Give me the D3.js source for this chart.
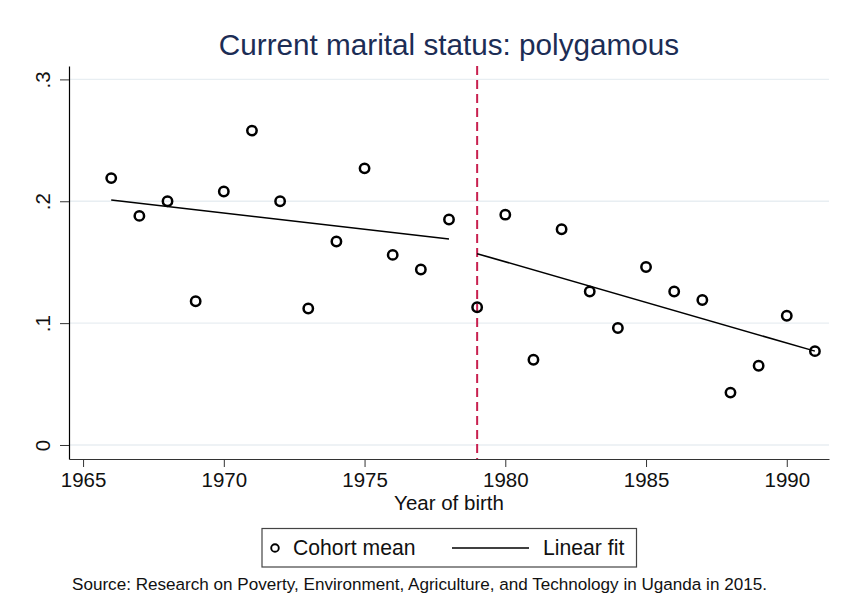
<!DOCTYPE html>
<html>
<head>
<meta charset="utf-8">
<script src="https://cdn.jsdelivr.net/npm/d3@7"></script>
<style>
  body { margin: 0; background: #fff; }
  svg { font-family: "Liberation Sans", Arial, sans-serif; }
</style>
</head>
<body>
<div id="chart"></div>
<script>
// Cohort means
const years = [1966, 1967, 1968, 1969, 1970, 1971, 1972, 1973, 1974, 1975, 1976, 1977, 1978,
               1979, 1980, 1981, 1982, 1983, 1984, 1985, 1986, 1987, 1988, 1989, 1990, 1991];
const means = [0.219, 0.188, 0.200, 0.118, 0.208, 0.258, 0.200, 0.112, 0.167, 0.227, 0.156, 0.144, 0.185,
               0.113, 0.189, 0.070, 0.177, 0.126, 0.096, 0.146, 0.126, 0.119, 0.043, 0.065, 0.106, 0.077];

// Linear fit segments, before and after the cutoff
const fitBefore = [[1966, 0.201], [1978, 0.169]];
const fitAfter = [[1979, 0.157], [1991, 0.077]];
const cutoff = 1979;

const xTicks = [1965, 1970, 1975, 1980, 1985, 1990];
const yTicks = [0, 0.1, 0.2, 0.3];
const yTickLabels = ['0', '.1', '.2', '.3'];

const width = 841, height = 613;
const margin = { top: 66, right: 12, bottom: 154, left: 69 };
const plotW = width - margin.left - margin.right;
const plotH = height - margin.top - margin.bottom;

const svg = d3.select('#chart')
    .append('svg')
    .attr('width', width)
    .attr('height', height);

const g = svg.append('g')
    .attr('transform', `translate(${margin.left},${margin.top})`);

const x = d3.scaleLinear().domain([1964.5, 1991.5]).range([0, plotW]);
const y = d3.scaleLinear().domain([-0.0115, 0.311]).range([plotH, 0]);

// Title
svg.append('text')
    .attr('x', 449)
    .attr('y', 55)
    .attr('text-anchor', 'middle')
    .style('font-size', '29.7px')
    .attr('fill', '#1c2d55')
    .text('Current marital status: polygamous');

// Grid lines
g.selectAll('.grid')
    .data(yTicks)
    .enter()
    .append('line')
    .attr('x1', 0)
    .attr('x2', plotW)
    .attr('y1', d => y(d))
    .attr('y2', d => y(d))
    .attr('stroke', '#e8eef2')
    .attr('stroke-width', 1.4);

// Y axis
const yAxis = g.append('g')
    .call(d3.axisLeft(y).tickValues(yTicks).tickFormat((d, i) => yTickLabels[i]).tickSize(9).tickSizeOuter(0));
yAxis.select('.domain').attr('stroke', '#000').attr('stroke-width', 1.2);
yAxis.selectAll('.tick line').attr('stroke', '#333');
yAxis.selectAll('.tick text')
    .style('font-size', '20.5px')
    .attr('fill', '#111')
    .attr('transform', 'rotate(-90)')
    .attr('x', 0)
    .attr('y', -19)
    .attr('dy', 0)
    .attr('text-anchor', 'middle');

// X axis
const xAxis = g.append('g')
    .attr('transform', `translate(0,${plotH})`)
    .call(d3.axisBottom(x).tickValues(xTicks).tickFormat(d3.format('d')).tickSize(8).tickSizeOuter(0));
xAxis.select('.domain').attr('stroke', '#333').attr('stroke-width', 1.2);
xAxis.selectAll('.tick line').attr('stroke', '#333');
xAxis.selectAll('.tick text')
    .style('font-size', '20.5px')
    .attr('fill', '#111')
    .attr('y', 28)
    .attr('dy', 0);

// X axis title
svg.append('text')
    .attr('x', 449)
    .attr('y', 510)
    .attr('text-anchor', 'middle')
    .style('font-size', '20.5px')
    .attr('fill', '#111')
    .text('Year of birth');

// Cutoff line
g.append('line')
    .attr('x1', x(cutoff))
    .attr('x2', x(cutoff))
    .attr('y1', 0)
    .attr('y2', plotH)
    .attr('stroke', '#c8204f')
    .attr('stroke-width', 2)
    .attr('stroke-dasharray', '9,5');

// Fit lines
const line = d3.line().x(d => x(d[0])).y(d => y(d[1]));
[fitBefore, fitAfter].forEach(seg => {
    g.append('path')
        .attr('d', line(seg))
        .attr('fill', 'none')
        .attr('stroke', '#000')
        .attr('stroke-width', 1.5);
});

// Cohort means
g.selectAll('.pt')
    .data(years.map((yr, i) => [yr, means[i]]))
    .enter()
    .append('circle')
    .attr('class', 'pt')
    .attr('cx', d => x(d[0]))
    .attr('cy', d => y(d[1]))
    .attr('r', 4.7)
    .attr('fill', 'none')
    .attr('stroke', '#000')
    .attr('stroke-width', 2.5);

// Legend
const legend = svg.append('g');
legend.append('rect')
    .attr('x', 262)
    .attr('y', 528.5)
    .attr('width', 374.5)
    .attr('height', 38.5)
    .attr('fill', '#fff')
    .attr('stroke', '#444')
    .attr('stroke-width', 1.2);
legend.append('circle')
    .attr('cx', 275)
    .attr('cy', 548)
    .attr('r', 3.8)
    .attr('fill', 'none')
    .attr('stroke', '#000')
    .attr('stroke-width', 1.9);
legend.append('text')
    .attr('x', 293)
    .attr('y', 555)
    .style('font-size', '21.2px')
    .attr('fill', '#111')
    .text('Cohort mean');
legend.append('line')
    .attr('x1', 452)
    .attr('x2', 529)
    .attr('y1', 548)
    .attr('y2', 548)
    .attr('stroke', '#000')
    .attr('stroke-width', 1.5);
legend.append('text')
    .attr('x', 543)
    .attr('y', 555)
    .style('font-size', '21.2px')
    .attr('fill', '#111')
    .text('Linear fit');

// Source note
svg.append('text')
    .attr('x', 72)
    .attr('y', 590)
    .style('font-size', '17.1px')
    .attr('fill', '#111')
    .text('Source: Research on Poverty, Environment, Agriculture, and Technology in Uganda in 2015.');
</script>
</body>
</html>
